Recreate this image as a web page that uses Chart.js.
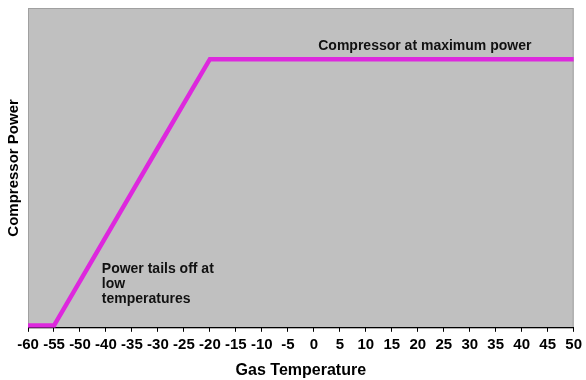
<!DOCTYPE html>
<html>
<head>
<meta charset="utf-8">
<script src="https://cdn.jsdelivr.net/npm/chart.js@4/dist/chart.umd.min.js"></script>
<style>
html,body{margin:0;padding:0;background:#fff;}
#wrap{width:586px;height:380px;position:relative;}
</style>
</head>
<body>
<div id="wrap"><canvas id="c" width="586" height="380"></canvas></div>
<script>
// Data
const temperatures = ['-60','-55','-50','-40','-35','-30','-25','-20','-15','-10','-5','0','5','10','15','20','25','30','35','40','45','50'];
const compressorPower = [0.7,0.7,14.6,28.5,42.4,56.3,70.2,84,84,84,84,84,84,84,84,84,84,84,84,84,84,84];
const xTitle = 'Gas Temperature';
const yTitle = 'Compressor Power';
const noteMax = ['Compressor at maximum power'];
const noteLow = ['Power tails off at', 'low', 'temperatures'];

const FONT = "'Liberation Sans', Arial, sans-serif";

const bgPlugin = {
  id: 'bg',
  beforeDraw(chart) {
    const {ctx, chartArea: a} = chart;
    ctx.save();
    ctx.fillStyle = '#c0c0c0';
    ctx.fillRect(a.left, a.top, a.right - a.left, a.bottom - a.top);
    ctx.strokeStyle = '#a0a0a0';
    ctx.lineWidth = 1;
    ctx.strokeRect(a.left + 0.5, a.top + 0.5, a.right - a.left - 1, a.bottom - a.top);
    ctx.restore();
  }
};

const notePlugin = {
  id: 'notes',
  afterDatasetsDraw(chart) {
    const {ctx, scales: {x, y}} = chart;
    ctx.save();
    ctx.font = 'bold 14px ' + FONT;
    ctx.fillStyle = '#111';
    ctx.textBaseline = 'middle';
    ctx.textAlign = 'left';
    ctx.fillText(noteMax[0], x.getPixelForValue(11.17), y.getPixelForValue(88.2));
    const lx = x.getPixelForValue(2.84);
    const y0 = y.getPixelForValue(18.3);
    noteLow.forEach((t, i) => ctx.fillText(t, lx, y0 + i * 15));
    ctx.restore();
  }
};

new Chart(document.getElementById('c'), {
  type: 'line',
  data: {
    labels: temperatures,
    datasets: [{
      data: compressorPower,
      borderColor: '#dd28dd',
      borderWidth: 4.5,
      pointRadius: 0,
      tension: 0,
      fill: false
    }]
  },
  options: {
    responsive: false,
    animation: false,
    layout: {padding: {left: 0, right: 11, top: 8, bottom: 0}},
    plugins: {legend: {display: false}, tooltip: {enabled: false}},
    scales: {
      x: {
        type: 'category',
        offset: false,
        grid: {display: true, drawOnChartArea: false, drawTicks: true, tickLength: 4, color: '#000'},
        border: {display: true, color: '#000', width: 1},
        ticks: {color: '#000', font: {family: FONT, size: 15, weight: 'bold'}, padding: 4, maxRotation: 0, autoSkip: false},
        title: {display: true, text: xTitle, color: '#000', font: {family: FONT, size: 16, weight: 'bold'}, padding: {top: 3, bottom: 0}}
      },
      y: {
        min: 0, max: 100,
        grid: {display: false, drawTicks: false},
        border: {display: false},
        ticks: {display: false},
        title: {display: true, text: yTitle, color: '#000', font: {family: FONT, size: 15, weight: 'bold'}, padding: {top: 5, bottom: 5}}
      }
    }
  },
  plugins: [bgPlugin, notePlugin]
});
</script>
</body>
</html>
